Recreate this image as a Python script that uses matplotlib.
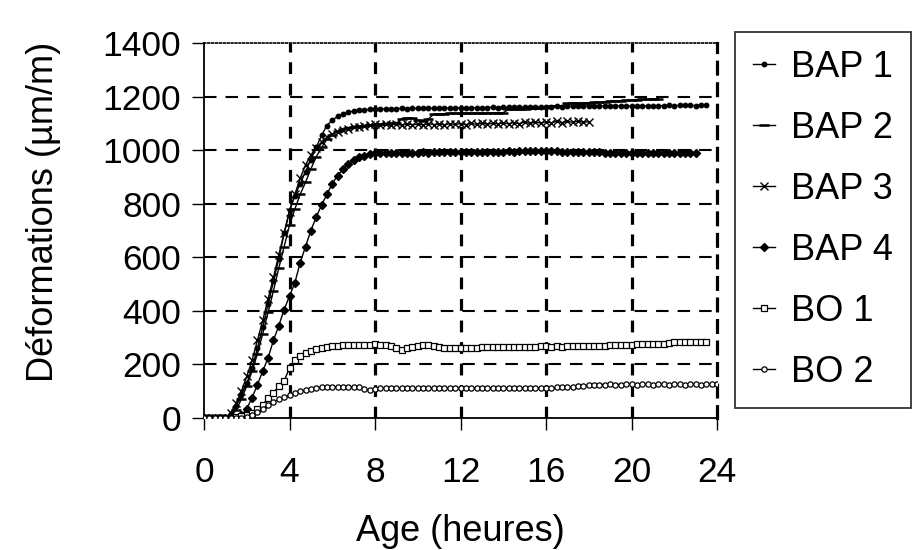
import numpy as np
import matplotlib
matplotlib.use("Agg")
import matplotlib.pyplot as plt

plt.rcParams['font.family'] = ['Liberation Sans', 'DejaVu Sans']
plt.rcParams['lines.scale_dashes'] = False

# ---- data (sampled every 0.25 h) ----
step = 0.25
bap1 = [0, 0, 0, 0, 0, 15, 45, 85,
        130, 185, 260, 340, 425, 510, 595, 690,
        775, 830, 875, 920, 965, 1010, 1055, 1092,
        1112, 1126, 1136, 1142, 1146, 1149, 1151, 1152,
        1153, 1154, 1154, 1155, 1155, 1156, 1155, 1156,
        1156, 1157, 1156, 1157, 1157, 1158, 1157, 1158,
        1158, 1158, 1159, 1158, 1159, 1159, 1160, 1159,
        1160, 1160, 1161, 1160, 1161, 1161, 1162, 1161,
        1162, 1162, 1163, 1162, 1163, 1163, 1164, 1163,
        1164, 1164, 1164, 1165, 1164, 1165, 1165, 1165,
        1165, 1166, 1165, 1166, 1166, 1166, 1166, 1167,
        1166, 1167, 1167, 1167, 1166, 1167, 1167]
bap2 = [0, 0, 0, 0, 0, 5, 30, 70,
        120, 175, 240, 315, 395, 475, 560, 640,
        720, 780, 835, 880, 930, 975, 1010, 1040,
        1058, 1070, 1078, 1084, 1088, 1090, 1092, 1094,
        1095, 1097, 1099, 1100, 1100, 1118, 1120, 1119,
        1112, 1110, 1116, 1135, 1136, 1136, 1137, 1137,
        1137, 1137, 1137, 1138, 1138, 1138, 1139, 1139,
        1140, 1152, 1153, 1154, 1155, 1156, 1157, 1158,
        1162, 1163, 1164, 1165, 1175, 1176, 1176, 1177,
        1177, 1178, 1178, 1179, 1183, 1184, 1185, 1186,
        1188, 1189, 1190, 1190, 1191, 1192]
bap3 = [0, 0, 0, 0, 0, 20, 55, 100,
        155, 215, 290, 365, 445, 525, 610, 690,
        770, 835, 895, 945, 982, 1008, 1030, 1048,
        1060, 1068, 1075, 1080, 1085, 1088, 1092, 1095,
        1097, 1095, 1098, 1094, 1097, 1093, 1098, 1095,
        1097, 1094, 1099, 1095, 1098, 1094, 1099, 1096,
        1099, 1095, 1100, 1096, 1101, 1097, 1100, 1098,
        1102, 1098, 1103, 1099, 1104, 1100, 1105, 1101,
        1106, 1102, 1107, 1103, 1107, 1104, 1108, 1104,
        1106]
bap4 = [0, 0, 0, 0, 0, 0, 0, 10,
        35, 75, 125, 175, 225, 290, 345, 405,
        455, 505, 580, 640, 700, 750, 795, 835,
        875, 905, 928, 948, 963, 973, 980, 985,
        988, 989, 990, 990, 991, 990, 991, 991,
        991, 992, 991, 992, 992, 992, 993, 992,
        993, 993, 993, 994, 993, 994, 994, 994,
        994, 995, 994, 995, 995, 995, 996, 995,
        996, 995, 995, 994, 994, 993, 993, 993,
        992, 992, 992, 991, 991, 991, 991, 990,
        990, 990, 990, 990, 990, 990, 990, 990,
        990, 990, 990, 990, 990]
bo1 = [0, 0, 0, 0, 0, 0, 3, 6,
       12, 20, 32, 50, 75, 95, 118, 140,
       185, 215, 232, 242, 252, 258, 263, 266,
       268, 270, 271, 272, 272, 273, 274, 274,
       275, 274, 272, 270, 262, 255, 260, 264,
       268, 272, 274, 270, 266, 262, 261, 261,
       261, 261, 261, 262, 265, 266, 266, 266,
       266, 265, 266, 266, 265, 266, 266, 267,
       267, 266, 267, 266, 267, 267, 268, 268,
       268, 268, 269, 270, 271, 272, 273, 274,
       274, 275, 275, 276, 276, 277, 278, 280,
       283, 284, 285, 285, 284, 283, 282]
bo2 = [0, 0, 0, 0, 0, 0, 0, 0,
       5, 12, 22, 35, 48, 60, 70, 78,
       85, 92, 99, 105, 109, 112, 115, 116,
       117, 117, 116, 117, 116, 114, 108, 104,
       110, 112, 113, 112, 111, 113, 112, 111,
       112, 113, 112, 111, 112, 113, 112, 112,
       111, 112, 113, 112, 111, 112, 113, 112,
       112, 113, 112, 111, 112, 113, 112, 113,
       112, 113, 114, 115, 116, 117, 118, 120,
       122, 124, 125, 125, 126, 125, 125, 126,
       126, 125, 126, 126, 125, 126, 126, 125,
       126, 126, 125, 126, 126, 125, 126, 126, 126]

series_names = ["BAP 1", "BAP 2", "BAP 3", "BAP 4", "BO 1", "BO 2"]
x_ticks = [0, 4, 8, 12, 16, 20, 24]
y_ticks = [0, 200, 400, 600, 800, 1000, 1200, 1400]

styles = [
    dict(marker='o', ms=3.2, mfc='black', mec='black'),
    dict(marker='_', ms=6.5, mew=1.8, mec='black'),
    dict(marker='x', ms=5.2, mew=1.0, mec='black'),
    dict(marker='D', ms=3.8, mfc='black', mec='black'),
    dict(marker='s', ms=3.8, mfc='white', mec='black', mew=0.9),
    dict(marker='o', ms=3.8, mfc='white', mec='black', mew=0.9),
]

fig = plt.figure(figsize=(9.15, 5.5), dpi=100)
ax = fig.add_axes([204/915, 1-418/550, 513/915, 375/550])

# grid (drawn manually, excluding the frame positions)
for yv in y_ticks[1:-1]:
    ax.axhline(yv, color='black', lw=1.5, ls=(0, (9, 6.5)), zorder=1)
for xv in x_ticks[1:-1]:
    ax.axvline(xv, color='black', lw=2.3, ls=(0, (8.5, 7)), zorder=1)

all_series = [bap1, bap2, bap3, bap4, bo1, bo2]
for name, vals, st in zip(series_names, all_series, styles):
    t = np.arange(len(vals)) * step
    ax.plot(t, vals, color='black', lw=1.0, label=name, zorder=3, **st)

ax.set_xlim(0, 24)
ax.set_ylim(0, 1400)
ax.set_xticks(x_ticks)
ax.set_yticks(y_ticks)
ax.tick_params(axis='both', direction='out', length=8.5, width=1.0,
               labelsize=25.5, color='black')
ax.tick_params(axis='y', pad=8)
ax.tick_params(axis='x', pad=19)

ax.spines['left'].set_linewidth(1.3)
ax.spines['bottom'].set_linewidth(1.3)
ax.spines['top'].set_linestyle((0, (1.2, 1.6)))
ax.spines['top'].set_linewidth(1.2)
ax.spines['right'].set_linestyle((0, (8.5, 7)))
ax.spines['right'].set_linewidth(2.3)

ax.set_xlabel("Age (heures)", fontsize=26, labelpad=18)
fig.text(44/915, 1-212/550, "Déformations (µm/m)", fontsize=26,
         rotation=90, ha='center', va='center')

leg = fig.legend(loc='upper left', bbox_to_anchor=(735/915, 1-32/550),
                 fontsize=26, frameon=True, fancybox=False, edgecolor='black',
                 handlelength=0.6, handletextpad=0.45, labelspacing=0.72,
                 borderpad=0.5, borderaxespad=0, handleheight=0.7)
leg.get_frame().set_linewidth(1.3)

fig.savefig("out.png", dpi=100)
